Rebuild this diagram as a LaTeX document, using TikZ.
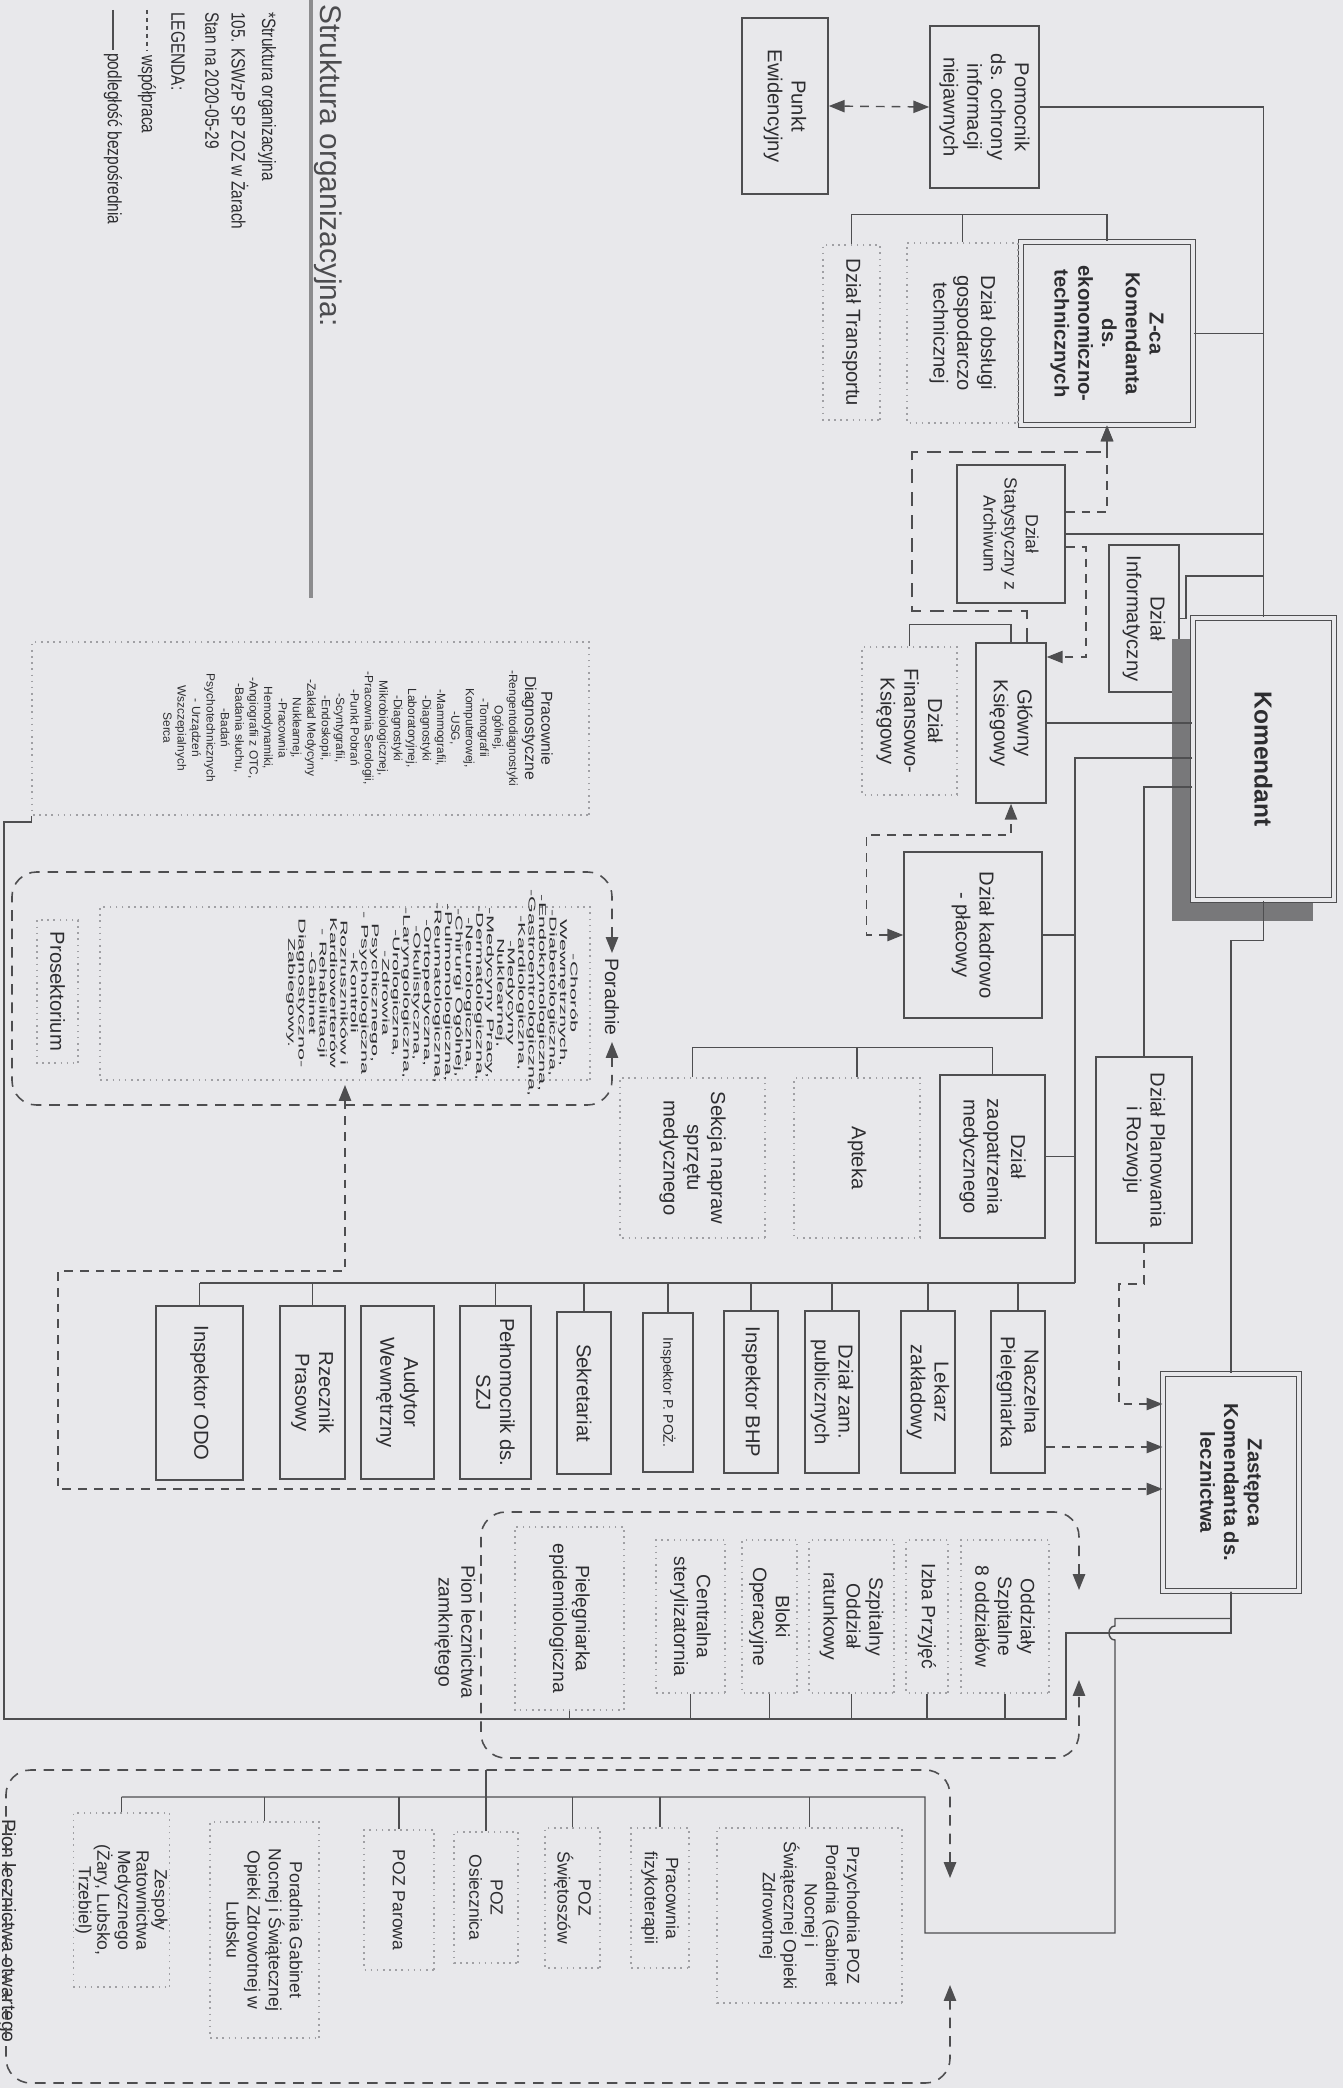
\documentclass[tikz,border=0pt]{standalone}
\usepackage{fontspec}
\setmainfont{Liberation Sans}
\newfontfamily\widefont[FakeStretch=2.2]{Liberation Sans}
\newfontfamily\thinfont[FakeStretch=0.8]{Liberation Sans}
\usetikzlibrary{arrows.meta}
\definecolor{bg}{RGB}{232,232,235}
\definecolor{linec}{RGB}{78,78,80}
\definecolor{txtc}{RGB}{45,45,48}
\definecolor{dotc}{RGB}{160,160,164}
\definecolor{shadowc}{RGB}{120,120,122}
\definecolor{rulec}{RGB}{140,140,142}
\newcommand\prhead{\fontsize{9}{10}\selectfont}
\begin{document}
\begin{tikzpicture}[x=0.02cm,y=-0.02cm,
lbl/.style={rotate=-90,align=center,inner sep=1pt,text=txtc,font=\fontsize{11.5}{13.5}\selectfont},
box/.style={lbl,draw=linec,line width=0.9pt},
dbox/.style={lbl,draw=dotc,line width=0.9pt,dash pattern=on 0.9pt off 2.6pt},
sbox/.style={dbox,font=\fontsize{10}{12}\selectfont},
zbox/.style={box,fill=bg,line width=0.6pt,double=bg,double distance=2pt,font=\bfseries\fontsize{11.5}{13.5}\selectfont},
sz/.style 2 args={minimum width=#1*0.02cm,minimum height=#2*0.02cm},
ln/.style={draw=linec,line width=0.8pt},
coop/.style={draw=linec,line width=0.8pt,dash pattern=on 5pt off 4pt},
coopb/.style={draw=linec,line width=1.3pt,dash pattern=on 8pt off 5pt},
pion/.style={coop,line width=0.9pt,dash pattern=on 6pt off 4.5pt,rounded corners=14pt},
arr/.style={-{Triangle[length=9pt,width=7pt]}},
arr2/.style={{Triangle[length=9pt,width=7pt]}-{Triangle[length=9pt,width=7pt]}},
opis/.style={lbl,anchor=west,inner sep=0pt,font=\thinfont\fontsize{11}{12}\selectfont}]
\fill[bg](0,0)rectangle(1343,2088);
\useasboundingbox(0,0)rectangle(1343,2088);
\node[lbl,anchor=west,inner sep=0pt,text=txtc!85,font=\fontsize{17}{19}\selectfont](tytul)at(328,4){Struktura organizacyjna:};
\draw[rulec,line width=2pt](311,0)--(311,598);
\node[opis](opis1)at(267,12){*Struktura organizacyjna};
\node[opis](opis2)at(240,12){105. KSWzP SP ZOZ w Żarach};
\node[opis](opis3)at(212,12){Stan na 2020-05-29};
\node[opis](opis4)at(178,12){LEGENDA:};
\draw[coop,dash pattern=on 2.5pt off 2pt](147,10)--(147,50);
\node[opis](wsp)at(147,55){współpraca};
\draw[ln](113,10)--(113,50);
\node[opis](podl)at(113,53){podległość bezpośrednia};
\node[box,sz={176}{86}](punkt)at(785,106){Punkt\\Ewidencyjny};
\node[box,sz={162}{109}](pomoc)at(984.5,107){Pomocnik\\ds. ochrony\\informacji\\niejawnych};
\node[zbox,sz={183}{172}](zca)at(1107,333.5){Z-ca\\Komendanta\\ds.\\ekonomiczno-\\technicznych};
\node[dbox,sz={180}{111}](obsl)at(962.5,333){Dział obsługi\\gospodarczo\\technicznej};
\node[dbox,sz={175}{57}](transp)at(851.5,332.5){Dział Transportu};
\node[box,sz={138}{108},font=\fontsize{10}{12}\selectfont](stat)at(1011,534){Dział\\Statystyczny z\\Archiwum};
\node[box,sz={147}{70}](inf)at(1144,618.5){Dział\\Informatyczny};
\fill[shadowc](1172,639)rectangle(1313,921);
\node[zbox,sz={282}{141},font=\bfseries\fontsize{14}{16}\selectfont](kom)at(1263.5,759){Komendant};
\node[box,sz={160}{70}](gk)at(1011,723){Główny\\Księgowy};
\node[dbox,sz={148}{95}](fin)at(909.5,721){Dział\\Finansowo-\\Księgowy};
\node[box,sz={166}{138}](kadr)at(973,935){Dział kadrowo\\- płacowy};
\node[box,sz={163}{105}](zaop)at(992.5,1156.5){Dział\\zaopatrzenia\\medycznego};
\node[dbox,sz={160}{126}](apt)at(857,1158){Apteka};
\node[dbox,sz={160}{145}](sekc)at(692.5,1158){Sekcja napraw\\sprzętu\\medycznego};
\node[box,sz={186}{96}](plan)at(1144,1150){Dział Planowania\\i Rozwoju};
\node[zbox,sz={217}{136}](zast)at(1231,1482.5){Zastępca\\Komendanta ds.\\lecznictwa};
\node[box,sz={174}{87}](odo)at(199.5,1393){Inspektor ODO};
\node[box,sz={173}{65}](rzecz)at(312.5,1392.5){Rzecznik\\Prasowy};
\node[box,sz={173}{73}](aud)at(397.5,1392.5){Audytor\\Wewnętrzny};
\node[box,sz={173}{71}](pelno)at(495.5,1392.5){Pełnomocnik ds.\\SZJ};
\node[box,sz={162}{54}](sekr)at(584,1393){Sekretariat};
\node[box,sz={159}{50},font=\fontsize{8}{9.5}\selectfont](ppoz)at(668,1392.5){Inspektor P. POŻ.};
\node[box,sz={162}{54}](bhp)at(751,1392){Inspektor BHP};
\node[box,sz={162}{54}](zam)at(832,1392){Dział zam.\\publicznych};
\node[box,sz={162}{54}](lek)at(928,1392){Lekarz\\zakładowy};
\node[box,sz={162}{54}](nacz)at(1018,1392){Naczelna\\Pielęgniarka};
\node[dbox,sz={173}{557}](prac)at(310.5,728.5){};
\node[lbl,font=\fontsize{6.8}{8.2}\selectfont](praclist)at(358,728){{\prhead Pracownie}\\[1pt]{\prhead Diagnostyczne}\\[1pt]-Rengentodiagnostyki\\Ogólnej,\\-Tomografii\\Komputerowej,\\-USG,\\-Mammografii,\\-Diagnostyki\\Laboratoryjnej,\\-Diagnostyki\\Mikrobiologicznej,\\-Pracownia Serologii,\\-Punkt Pobrań\\-Scyntygrafii,\\-Endoskopii,\\-Zakład Medycyny\\Nuklearnej,\\-Pracownia\\Hemodynamiki,\\-Angiografii z OTC,\\-Badania słuchu,\\-Badań\\Psychotechnicznych\\- Urządzeń\\Wszczepialnych\\Serca};
\node[dbox,sz={173}{490}](pordot)at(345,993.5){};
\node[lbl,font=\widefont\fontsize{5.6}{5.95}\selectfont](porlist)at(432,993){-Chorób\\Wewnętrznych,\\-Diabetologiczna,\\-Endokrynologiczna,\\-Gastroentrologiczna,\\-Kardiologiczna,\\-Medycyny\\Nuklearnej,\\-Medycyny Pracy,\\-Dermatologiczna,\\-Neurologiczna,\\-Chirurgi Ogólnej,\\-Pulmonologiczna,\\-Reumatologiczna,\\-Ortopedyczna,\\-Okulistyczna,\\-Laryngologiczna,\\-Urologiczna,\\-Zdrowia\\Psychicznego,\\- Psychologiczna\\-Kontroli\\Rozruszników i\\Kardiowerterów\\- Rehabilitacji\\-Gabinet\\Diagnostyczno-\\Zabiegowy.};
\node[dbox,sz={143}{41}](prosek)at(57.5,991.5){Prosektorium};
\node[lbl,font=\fontsize{11}{13}\selectfont](poradnie)at(612,997){Poradnie};
\node[dbox,sz={153}{88},font=\fontsize{11}{13}\selectfont](oddz)at(1005,1616.5){Oddziały\\Szpitalne\\8 oddziałów};
\node[dbox,sz={153}{42},font=\fontsize{11}{13}\selectfont](izba)at(927,1616.5){Izba Przyjęć};
\node[dbox,sz={153}{85},font=\fontsize{11}{13}\selectfont](sor)at(851.5,1616.5){Szpitalny\\Oddział\\ratunkowy};
\node[dbox,sz={153}{55},font=\fontsize{11}{13}\selectfont](bloki)at(769.5,1616.5){Bloki\\Operacyjne};
\node[dbox,sz={153}{69},font=\fontsize{11}{13}\selectfont](steryl)at(690.5,1616.5){Centralna\\sterylizatornia};
\node[dbox,sz={183}{109},font=\fontsize{11}{13}\selectfont](pielep)at(569.5,1618.5){Pielęgniarka\\epidemiologiczna};
\node[lbl,font=\fontsize{11}{13}\selectfont](zamk)at(455,1632){Pion lecznictwa\\zamkniętego};
\node[sbox,sz={174}{87},font=\fontsize{10}{10.5}\selectfont](zesp)at(121.5,1900){Zespoły\\Ratownictwa\\Medycznego\\(Żary, Lubsko,\\Trzebiel)};
\node[sbox,sz={216}{109}](lubsk)at(264.5,1930){Poradnia Gabinet\\Nocnej i Świątecznej\\Opieki Zdrowotnej w\\Lubsku};
\node[sbox,sz={140}{70}](parowa)at(399,1900){POZ Parowa};
\node[sbox,sz={131}{64}](osiecz)at(486,1897.5){POZ\\Osiecznica};
\node[sbox,sz={140}{55}](swiet)at(572.5,1898){POZ\\Świętoszów};
\node[sbox,sz={140}{58}](fizjo)at(660,1898){Pracownia\\fizykoterapii};
\node[sbox,sz={175}{185}](przych)at(809.5,1915.5){Przychodnia POZ\\Poradnia (Gabinet\\Nocnej i\\Świątecznej Opieki\\Zdrowotnej};
\node[lbl,font=\fontsize{11}{13}\selectfont](otw)at(7,1931){Pion lecznictwa otwartego};
\draw[ln](pomoc.north)-|(kom.west);
\draw[ln](zca.north)--(zca.north-|kom.west);
\draw[ln](stat.north)--(stat.north-|kom.west);
\draw[ln](inf.north)--++(6,0)|-(kom.west|-0,576);
\draw[ln](transp.west)--++(0,-30)-|(zca.west);
\draw[ln](obsl.west)--(obsl.west|-0,215);
\draw[ln](gk.north)--(gk.north-|kom.south);
\draw[ln](fin.west)--++(0,-22)-|(gk.west);
\coordinate(rowtop)at(1075,1283);
\draw[ln](kom.south|-0,758)-|(rowtop);
\draw[ln](kadr.north)--(kadr.north-|rowtop);
\draw[ln](zaop.north)--(zaop.north-|rowtop);
\draw[ln](sekc.west)--++(0,-30)-|(zaop.west);
\draw[ln](apt.west)--++(0,-30);
\draw[ln](kom.south|-0,787)-|(plan.west);
\draw[ln](kom.east)--++(0,40)-|(zast.west);
\draw[ln](rowtop)--(odo.west|-0,1283);
\foreach \n in {odo,rzecz,pelno,sekr,ppoz,bhp,zam,lek,nacz}
\draw[ln](\n.west)--(\n.west|-0,1283);
\draw[coop,arr2](punkt.north)--(pomoc.south);
\draw[coop,arr](stat.north|-0,512)-|(zca.east);
\draw[coopb,arr](gk.west-|1027,0)--++(0,-31)-|(912,452)-|(zca.east);
\draw[coop,arr](stat.north|-0,547)--++(20,0)|-(gk.north|-0,657);
\draw[coop,arr2](kadr.south)--++(-37,0)|-(gk.east|-0,835)--(gk.east);
\draw[coop,arr](plan.east)--++(0,40)--++(-25,0)|-(zast.south|-0,1404);
\draw[coop,arr](nacz.north|-0,1447)--(zast.south|-0,1447);
\coordinate(porad)at(345,1085);
\draw[coop,arr2](porad)--(345,1271)--(58,1271)--(58,1489)--(zast.south|-0,1489);
\draw[pion,arr2](612,953)--(612,872)--(12,872)--(12,1105)--(612,1105)--(612,1042);
\draw[pion,arr2](1079,1590)--(1079,1512)--(481,1512)--(481,1758)--(1079,1758)--(1079,1680);
\draw[pion,arr2](950,1878)--(950,1770)--(6,1770)--(6,2083)--(950,2083)--(950,1985);
\draw[ln](zast.east)|-(1066,1633)|-(4,1719)--(4,822)-|(prac.south east);
\foreach \n in {pielep,steryl,bloki,sor,izba,oddz}
\draw[ln](\n.east)--(\n.east|-0,1719);
\draw[ln](zast.east)--++(0,27)-|(1115,1626)..controls(1107,1626)and(1107,1640)..(1115,1640)|-(925,1933)--(925,1797)--(zesp.west|-0,1797);
\foreach \n in {zesp,lubsk,parowa,swiet,fizjo,przych}
\draw[ln](\n.west)--(\n.west|-0,1797);
\draw[ln](osiecz.west)--(osiecz.west|-0,1770);
\end{tikzpicture}
\end{document}
